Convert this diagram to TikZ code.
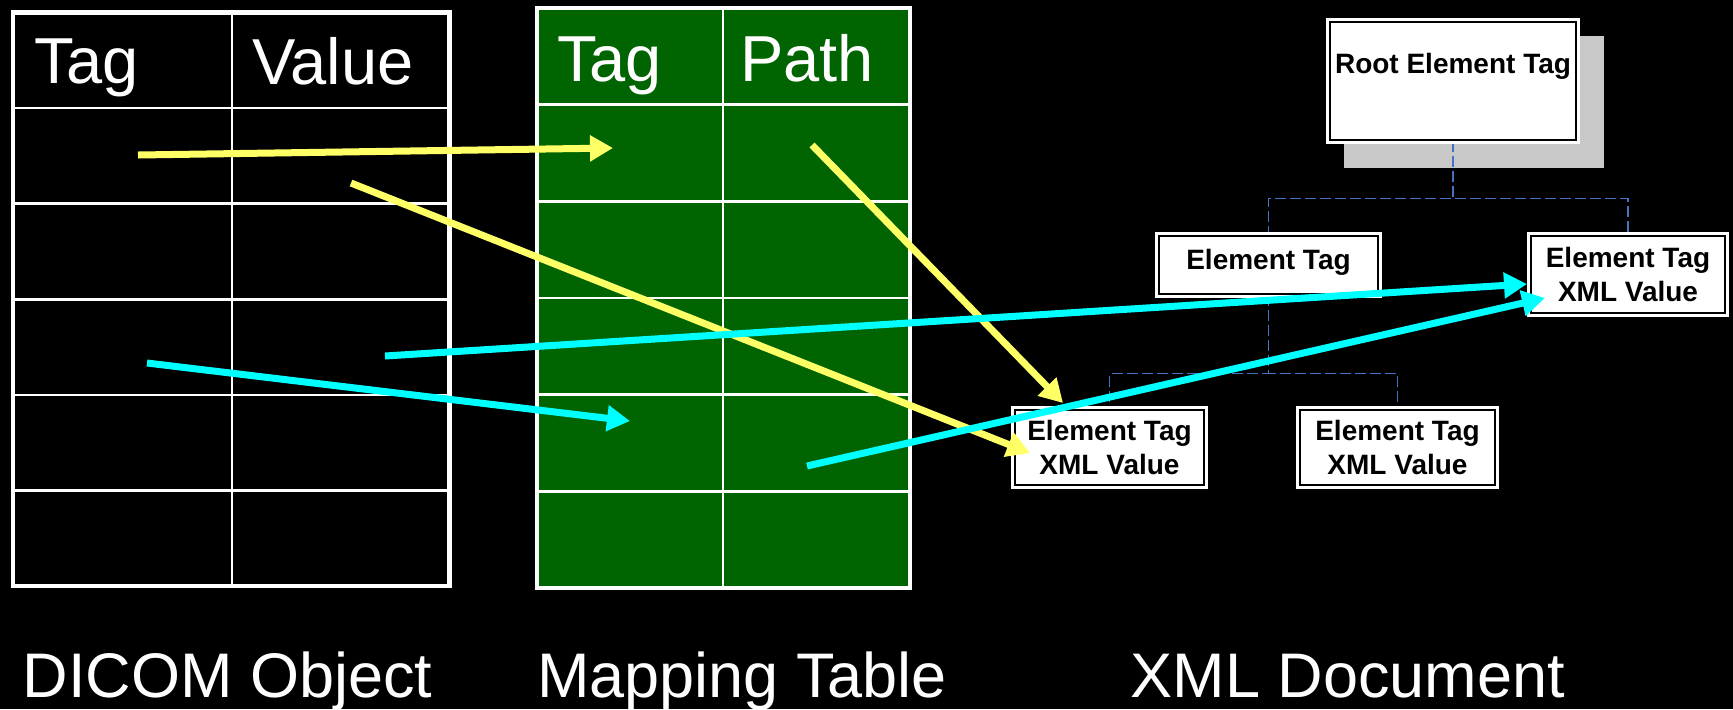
\documentclass[tikz,border=0pt]{standalone}
\usepackage{fontspec}
\setmainfont{Liberation Sans}
\usetikzlibrary{arrows.meta,calc}
\pgfdeclarelayer{background}
\pgfsetlayers{background,main}

\definecolor{mapgreen}{RGB}{0,100,0}
\definecolor{tagyellow}{RGB}{255,255,102}
\definecolor{tagcyan}{RGB}{0,255,255}
\definecolor{linkblue}{RGB}{68,114,196}
\definecolor{shadowgray}{RGB}{200,200,200}

\tikzset{
  head/.style={text=white,font=\fontsize{32.5}{38}\selectfont,inner sep=0pt,anchor=base},
  caption/.style={text=white,font=\fontsize{31.5}{36}\selectfont,inner sep=0pt,anchor=base},
  xmlbox/.style={draw=black,line width=0.6pt,fill=white,preaction={draw=white,line width=4pt},
    inner sep=0pt,align=center,font=\bfseries\fontsize{14}{17}\selectfont},
  treeline/.style={draw=linkblue,line width=0.75pt,dash pattern=on 5.5pt off 2pt},
  yarrow/.style={draw=tagyellow,line width=3.5pt,-{Triangle[length=11.5pt,width=12.5pt]}},
  carrow/.style={draw=tagcyan,line width=3.5pt,-{Triangle[length=11.5pt,width=12.5pt]}}
}

\begin{document}
\begin{tikzpicture}[x=0.5pt,y=-0.5pt]
\useasboundingbox (0,0) rectangle (1733,709);

% DICOM object
\draw[white,line width=2.25pt] (13,12.5) rectangle (449.5,586);
\draw[white,line width=1.25pt] (232,12.5) -- (232,586);
\draw[white,line width=1.25pt] (13,108) -- (449.5,108);
\draw[white,line width=1.25pt] (13,203.7) -- (449.5,203.7);
\draw[white,line width=1.25pt] (13,299.3) -- (449.5,299.3);
\draw[white,line width=1.25pt] (13,395) -- (449.5,395);
\draw[white,line width=1.25pt] (13,490.6) -- (449.5,490.6);
\node[head] (dtag) at (86.5,83.5) {Tag};
\node[head] (dval) at (333,84) {Value};

% mapping table
\draw[white,line width=2.25pt,fill=mapgreen] (537,8) rectangle (910,588);
\draw[white,line width=1.25pt] (723,8) -- (723,588);
\draw[white,line width=1.25pt] (537,104.7) -- (910,104.7);
\draw[white,line width=1.25pt] (537,201.3) -- (910,201.3);
\draw[white,line width=1.25pt] (537,298) -- (910,298);
\draw[white,line width=1.25pt] (537,394.7) -- (910,394.7);
\draw[white,line width=1.25pt] (537,491.3) -- (910,491.3);
\node[head] (mtag) at (609.5,81) {Tag};
\node[head] (mpath) at (807,81) {Path};

% XML document
\node[xmlbox,minimum width=123pt,minimum height=59pt,text height=10pt,text depth=18pt] (root) at (1453,81) {Root Element Tag};
\node[xmlbox,minimum width=109.5pt,minimum height=29pt,text height=10pt,text depth=6pt] (elem) at (1268.5,265) {Element Tag};
\node[xmlbox,minimum width=97pt,minimum height=38.5pt] (elemval) at (1628,274.5) {Element Tag\\XML Value};
\node[xmlbox,minimum width=94.5pt,minimum height=37.5pt] (leafa) at (1109.5,447.5) {Element Tag\\XML Value};
\node[xmlbox,minimum width=97.5pt,minimum height=37.5pt] (leafb) at (1397.5,447.5) {Element Tag\\XML Value};

% captions
\node[caption] (dcm) at (227.5,697) {DICOM Object};
\node[caption] (map) at (742,697) {Mapping Table};
\node[caption] (xml) at (1348,697) {XML Document};

\begin{pgfonlayer}{background}
\fill[black] (0,0) rectangle (1733,709);
\fill[shadowgray] ($(root.north west)+(15,15)$) rectangle ($(root.south east)+(27,27)$);
\draw[treeline] (root.south) -- ++(0,58) -| (elem.north);
\draw[treeline] (root.south) -- ++(0,58) -| (elemval.north);
\draw[treeline] (elem.south) -- ++(0,79) -| (leafa.north);
\draw[treeline] (elem.south) -- ++(0,79) -| (leafb.north);
\end{pgfonlayer}

% mappings
\coordinate (dtagA) at (138,155);
\coordinate (mtagA) at (613,148);
\coordinate (dvalA) at (351,183);
\coordinate (leafaV) at (1030,453);
\coordinate (mpathA) at (812,145);
\coordinate (leafaT) at (1063,403);
\coordinate (dvalC) at (385,356);
\coordinate (elemvalT) at (1527,284);
\coordinate (dtagC) at (147,363);
\coordinate (mtagD) at (630,421);
\coordinate (mpathD) at (807,466);
\coordinate (elemvalV) at (1545,298);
\draw[yarrow] (dtagA) -- (mtagA);
\draw[yarrow] (dvalA) -- (leafaV);
\draw[yarrow] (mpathA) -- (leafaT);
\draw[carrow] (dvalC) -- (elemvalT);
\draw[carrow] (dtagC) -- (mtagD);
\draw[carrow] (mpathD) -- (elemvalV);
\end{tikzpicture}
\end{document}
